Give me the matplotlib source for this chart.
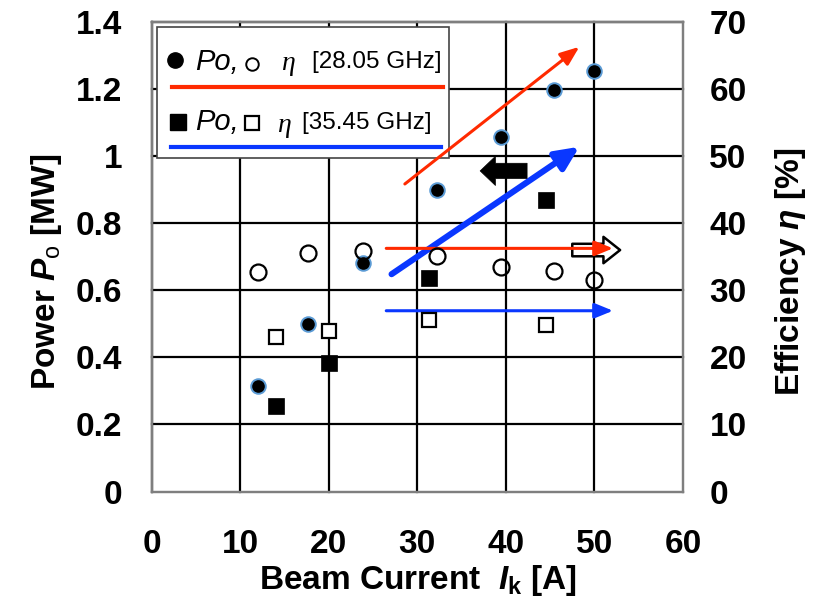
import matplotlib
matplotlib.use("Agg")
import matplotlib.pyplot as plt
from matplotlib.lines import Line2D
from matplotlib.patches import Rectangle

plt.rcParams['font.family'] = ['Liberation Sans', 'DejaVu Sans']
plt.rcParams['mathtext.fontset'] = 'custom'
plt.rcParams['mathtext.rm'] = 'Liberation Sans'
plt.rcParams['mathtext.it'] = 'Liberation Sans:italic:bold'
plt.rcParams['mathtext.bf'] = 'Liberation Sans:bold'

# ---- data -------------------------------------------------------------
# 28.05 GHz
current_28 = [12.0, 17.7, 23.9, 32.2, 39.4, 45.4, 50.0]
power_28 = [0.315, 0.50, 0.682, 0.90, 1.056, 1.197, 1.255]
eff_28 = [32.7, 35.5, 35.9, 35.1, 33.4, 32.9, 31.5]

# 35.45 GHz
current_35 = [14.0, 20.0, 31.3, 44.5]
power_35 = [0.256, 0.382, 0.636, 0.869]
eff_35 = [23.0, 23.9, 25.6, 24.8]

x_ticks = [0, 10, 20, 30, 40, 50, 60]
p_ticks = [0, 0.2, 0.4, 0.6, 0.8, 1.0, 1.2, 1.4]
p_tick_labels = ['0', '0.2', '0.4', '0.6', '0.8', '1', '1.2', '1.4']
eta_ticks = [0, 10, 20, 30, 40, 50, 60, 70]

RED = '#ff2a00'
BLUE = '#0a37ff'
EDGE_BLUE = '#5b9bd5'
FRAME_GREY = '#7f7f7f'

# ---- figure / axes ------------------------------------------------------
W, H = 825, 601
AX_L, AX_R, AX_T, AX_B = 151.5, 683.0, 22.0, 491.5
fig = plt.figure(figsize=(W / 100, H / 100), dpi=100)
ax = fig.add_axes([AX_L / W, 1 - AX_B / H, (AX_R - AX_L) / W, (AX_B - AX_T) / H])
ax2 = ax.twinx()

ax.set_xlim(0, 60)
ax.set_ylim(0, 1.4)
ax2.set_ylim(0, 70)

for a in (ax, ax2):
    for s in a.spines.values():
        s.set_color(FRAME_GREY)
        s.set_linewidth(1.6)

# black grid lines (the 0 and 1.4 lines coincide with left/top frame)
for xv in x_ticks[:-1]:
    ax.axvline(xv, color='black', lw=1.6, zorder=1, clip_on=False)
for yv in p_ticks[1:]:
    ax.axhline(yv, color='black', lw=1.6, zorder=1, clip_on=False)

tick_font = dict(fontsize=24, fontweight='bold')
ax.set_xticks(x_ticks)
ax.set_xticklabels([str(v) for v in x_ticks], **tick_font)
ax.set_yticks(p_ticks)
ax.set_yticklabels(p_tick_labels, **tick_font)
ax2.set_yticks(eta_ticks)
ax2.set_yticklabels([str(v) for v in eta_ticks], **tick_font)
ax.tick_params(axis='x', length=0, pad=27)
ax.tick_params(axis='y', length=0, pad=21)
ax2.tick_params(axis='y', length=0, pad=19)

# ---- data markers -------------------------------------------------------
ax.plot(current_28, power_28, ls='none', marker='o', ms=10.5,
        mfc='black', mec=EDGE_BLUE, mew=1.4, zorder=6)
ax.plot(current_35, power_35, ls='none', marker='s', ms=11,
        mfc='black', mec='black', mew=0.5, zorder=6)
ax2.plot(current_28, eff_28, ls='none', marker='o', ms=11.5,
         mfc='none', mec='black', mew=1.6, zorder=6)
ax2.plot(current_35, eff_35, ls='none', marker='s', ms=10,
         mfc='white', mec='black', mew=1.6, zorder=6)

# ---- trend arrows -------------------------------------------------------
def arrow(x0, y0, x1, y1, color, lw, hl, hw, z=5):
    ax.annotate('', xy=(x1, y1), xytext=(x0, y0),
                arrowprops=dict(arrowstyle=f'-|>,head_length={hl},head_width={hw}',
                                color=color, lw=lw, shrinkA=0, shrinkB=0),
                zorder=z)

arrow(28.6, 0.917, 48.3, 1.326, RED, 2.2, 1.15, 0.45)
arrow(27.1, 0.648, 48.3, 1.028, BLUE, 4.4, 1.4, 0.65)
arrow(26.5, 0.725, 52.1, 0.725, RED, 2.2, 1.1, 0.45, z=7)
arrow(26.5, 0.539, 52.1, 0.539, BLUE, 2.2, 1.1, 0.45)

# fat arrows pointing to the relevant axis
ax.annotate('', xy=(37.1, 0.956), xytext=(42.4, 0.956),
            arrowprops=dict(arrowstyle='simple,head_length=11,head_width=21,tail_width=11',
                            mutation_scale=1, fc='black', ec='black', lw=0.5,
                            shrinkA=0, shrinkB=0), zorder=5)
ax.annotate('', xy=(52.9, 0.720), xytext=(47.5, 0.720),
            arrowprops=dict(arrowstyle='simple,head_length=12,head_width=19,tail_width=9',
                            mutation_scale=1, fc='white', ec='black', lw=1.8,
                            shrinkA=0, shrinkB=0), zorder=6)

# ---- legend box ---------------------------------------------------------
def af(x, y):
    return ((x - AX_L) / (AX_R - AX_L), (AX_B - y) / (AX_B - AX_T))

bx0, by0 = af(157, 158)
bx1, by1 = af(449, 27)
ax.add_patch(Rectangle((bx0, by0), bx1 - bx0, by1 - by0, transform=ax.transAxes,
                       fc='white', ec='#444444', lw=1.2, zorder=4))

def leg_marker(x, y, **kw):
    fx, fy = af(x, y)
    ax.add_line(Line2D([fx], [fy], transform=ax.transAxes, ls='none', zorder=4.5, **kw))

def leg_text(x, y, s, **kw):
    fx, fy = af(x, y)
    ax.text(fx, fy, s, transform=ax.transAxes, va='center', ha='left', zorder=4.5, **kw)

def leg_line(x0, x1, y, color):
    f0, fy = af(x0, y)
    f1, _ = af(x1, y)
    ax.add_line(Line2D([f0, f1], [fy, fy], transform=ax.transAxes, color=color,
                       lw=3, zorder=4.5))

# row 1: 28.05 GHz
leg_marker(175, 60, marker='o', ms=11, mfc='black', mec='black')
leg_text(195, 62, 'Po,', fontsize=21, fontstyle='italic')
leg_marker(252, 64, marker='o', ms=9, mfc='white', mec='black', mew=1.4)
leg_text(281, 64, 'η', fontsize=20, fontstyle='italic', family='Liberation Serif')
leg_text(312, 62, '[28.05 GHz]', fontsize=17.5)
leg_line(172, 443, 86.5, RED)

# row 2: 35.45 GHz
leg_marker(178, 122, marker='s', ms=11, mfc='black', mec='black')
leg_text(195, 122, 'Po,', fontsize=21, fontstyle='italic')
leg_marker(252, 123, marker='s', ms=9.5, mfc='white', mec='black', mew=1.6)
leg_text(277, 125, 'η', fontsize=20, fontstyle='italic', family='Liberation Serif')
leg_text(302, 123, '[35.45 GHz]', fontsize=17.5)
leg_line(171, 441, 147, BLUE)

# ---- axis titles --------------------------------------------------------
fig.text(47 / W, 1 - 272 / H, r'Power $P_{\mathrm{o}}$ [MW]', rotation=90,
         ha='center', va='center', fontsize=24, fontweight='bold')
fig.text(791 / W, 1 - 272 / H, r'Efficiency $\eta$ [%]', rotation=90,
         ha='center', va='center', fontsize=24, fontweight='bold')
fig.text(418 / W, 1 - 580 / H, r'Beam Current  $I_{\mathbf{k}}$ [A]',
         ha='center', va='center', fontsize=24, fontweight='bold')

fig.savefig('out.png', dpi=100)
